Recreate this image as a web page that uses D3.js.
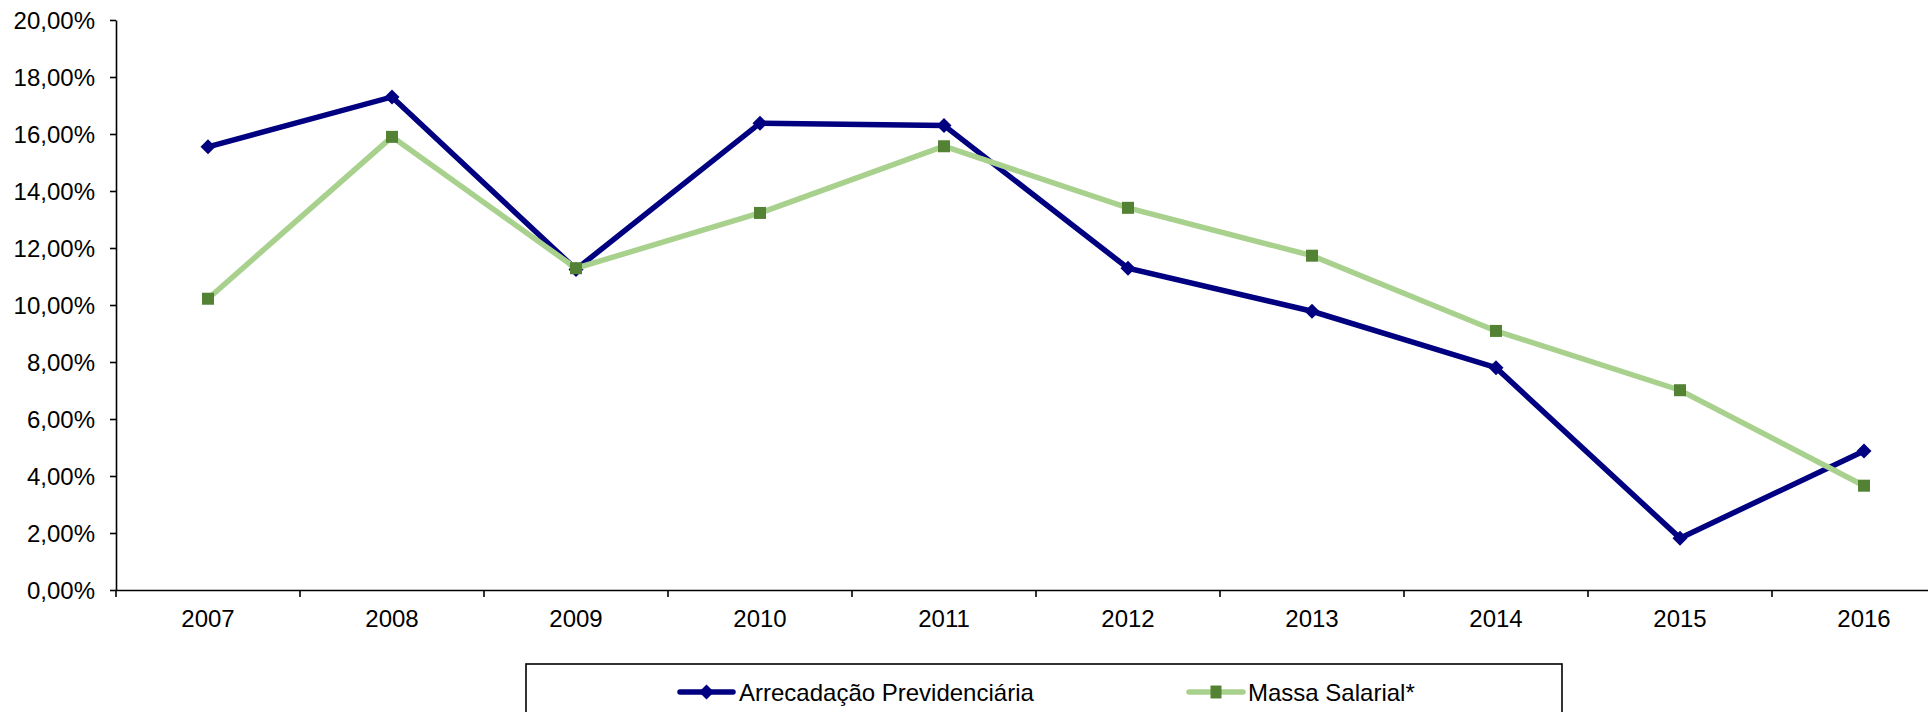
<!DOCTYPE html>
<html>
<head>
<meta charset="utf-8">
<script src="https://cdn.jsdelivr.net/npm/d3@7"></script>
<style>
  html, body { margin: 0; padding: 0; background: #fff; overflow: hidden; }
  svg { display: block; }
  text { font-family: "Liberation Sans", Arial, sans-serif; fill: #000; }
</style>
</head>
<body>
<svg id="chart" width="1928" height="712"></svg>
<script>
const years = ["2007","2008","2009","2010","2011","2012","2013","2014","2015","2016"];
const arrecadacao = [15.55, 17.3, 11.25, 16.38, 16.3, 11.29, 9.78, 7.8, 1.82, 4.88];
const massaSalarial = [10.22, 15.9, 11.29, 13.23, 15.57, 13.41, 11.73, 9.09, 7.01, 3.66];
const yTicks = [0, 2, 4, 6, 8, 10, 12, 14, 16, 18, 20];
const seriesNames = ["Arrecadação Previdenciária", "Massa Salarial*"];

(function () {
const svg = d3.select("#chart");
const mLeft = 116, mTop = 20, mBottom = 590, band = 184;
const fs = "24px";

const x = d3.scaleBand().domain(years).range([mLeft, mLeft + band * years.length]).padding(0);
const y = d3.scaleLinear().domain([0, 20]).range([mBottom, mTop]);

// Y axis
const yAxis = d3.axisLeft(y)
  .tickValues(yTicks)
  .tickFormat(d => d.toFixed(2).replace(".", ",") + "%")
  .tickSize(6)
  .tickSizeOuter(0)
  .tickPadding(15);
const gy = svg.append("g").attr("transform", `translate(${mLeft},0)`).call(yAxis);
gy.selectAll("text").style("font-size", fs).attr("dy", "0.36em");
gy.selectAll("line, path").attr("stroke", "#000").attr("stroke-width", 1.6);

// X axis (labels)
const xAxis = d3.axisBottom(x).tickSize(0).tickSizeOuter(0).tickPadding(20);
const gx = svg.append("g").attr("transform", `translate(0,${mBottom})`).call(xAxis);
gx.selectAll("text").style("font-size", fs);
gx.select("path").attr("stroke", "#000").attr("stroke-width", 1.6);
// boundary ticks
const bounds = years.map(yv => x(yv)).concat([x(years[years.length - 1]) + x.bandwidth()]);
svg.append("g").selectAll("line").data(bounds).join("line")
  .attr("x1", d => d).attr("x2", d => d)
  .attr("y1", mBottom).attr("y2", mBottom + 7)
  .attr("stroke", "#000").attr("stroke-width", 1.6);

const cx = yv => x(yv) + x.bandwidth() / 2;
const line = d3.line().x((d, i) => cx(years[i])).y(d => y(d));

const blue = "#000080", lightGreen = "#a9d18e", darkGreen = "#548235";

// Arrecadação
svg.append("path").datum(arrecadacao).attr("d", line)
  .attr("fill", "none").attr("stroke", blue).attr("stroke-width", 5.5).attr("stroke-linejoin", "miter");
const diamond = s => `M0,${-s}L${s},0L0,${s}L${-s},0Z`;
svg.append("g").selectAll("path").data(arrecadacao).join("path")
  .attr("d", diamond(7.5))
  .attr("transform", (d, i) => `translate(${cx(years[i])},${y(d)})`)
  .attr("fill", blue);

// Massa Salarial
svg.append("path").datum(massaSalarial).attr("d", line)
  .attr("fill", "none").attr("stroke", lightGreen).attr("stroke-width", 5.5).attr("stroke-linejoin", "miter");
svg.append("g").selectAll("rect").data(massaSalarial).join("rect")
  .attr("x", (d, i) => cx(years[i]) - 6).attr("y", d => y(d) - 6)
  .attr("width", 12).attr("height", 12)
  .attr("fill", darkGreen);

// Legend
svg.append("rect").attr("x", 526).attr("y", 664).attr("width", 1036).attr("height", 80)
  .attr("fill", "#fff").attr("stroke", "#000").attr("stroke-width", 1.6);
const leg = [
  { name: seriesNames[0], x1: 680, x2: 733, tx: 739, stroke: blue, mark: "diamond", mc: blue },
  { name: seriesNames[1], x1: 1189, x2: 1243, tx: 1248, stroke: lightGreen, mark: "square", mc: darkGreen }
];
const ly = 692;
leg.forEach(l => {
  svg.append("line").attr("x1", l.x1).attr("x2", l.x2).attr("y1", ly).attr("y2", ly)
    .attr("stroke", l.stroke).attr("stroke-width", 5.5).attr("stroke-linecap", "round");
  const mx = (l.x1 + l.x2) / 2;
  if (l.mark === "diamond") {
    svg.append("path").attr("d", diamond(7.5)).attr("transform", `translate(${mx},${ly})`).attr("fill", l.mc);
  } else {
    svg.append("rect").attr("x", mx - 5.5).attr("y", ly - 6.5).attr("width", 11).attr("height", 13).attr("fill", l.mc);
  }
  svg.append("text").attr("x", l.tx).attr("y", ly).attr("dy", "0.36em")
    .style("font-size", fs).text(l.name);
});
})();
</script>
</body>
</html>
